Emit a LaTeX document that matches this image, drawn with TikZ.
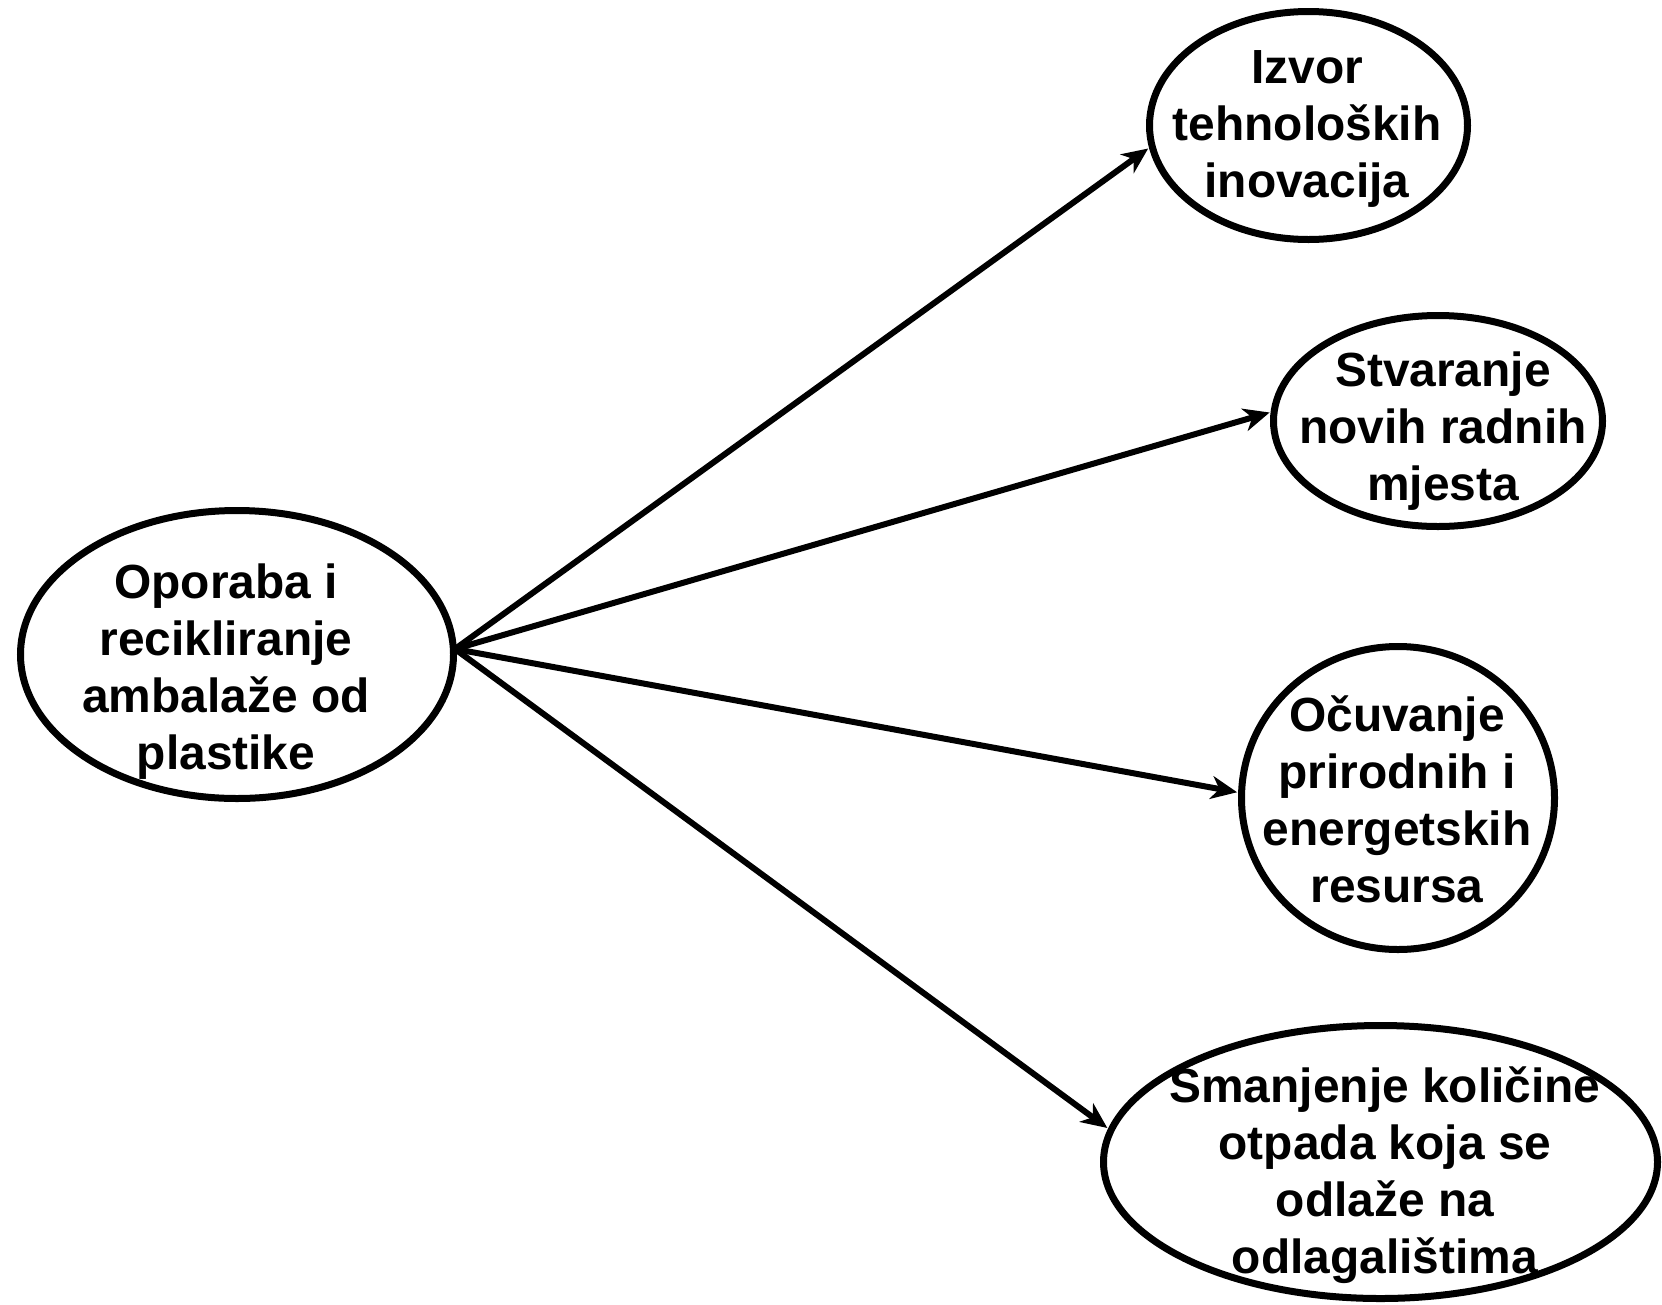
\documentclass[tikz,border=0pt]{standalone}
\usepackage{fontspec}
\setmainfont{Liberation Sans}
\usetikzlibrary{shapes.geometric,arrows.meta}
\tikzset{
  oval/.style={ellipse, draw=black, line width=7pt, inner sep=0pt},
  lbl/.style={anchor=north, inner sep=0pt, align=center,
    font=\fontsize{47.9pt}{57pt}\selectfont\bfseries},
  conn/.style={line width=6pt, -{Stealth[length=26pt,width=23pt,inset=8pt]}, shorten >=1pt}
}
\newcommand{\firstline}{\rule{0pt}{40pt}}
\begin{document}
\begin{tikzpicture}[x=1pt,y=-1pt]
\useasboundingbox[fill=white] (0,0) rectangle (1662,1304);
% ellipses
\node[oval, minimum width=433pt, minimum height=288pt] (L) at (237,654.5) {};
\node[oval, minimum width=318pt, minimum height=228pt] (I) at (1308.5,125.5) {};
\node[oval, minimum width=329pt, minimum height=211pt] (S) at (1438,421) {};
\node[oval, minimum width=313pt, minimum height=303pt] (O) at (1398,798) {};
\node[oval, minimum width=554pt, minimum height=273pt] (M) at (1380.5,1162) {};
% labels
\node[lbl] (tL) at (226,558) {\firstline Oporaba i\\recikliranje\\ambalaže od\\plastike};
\node[lbl] (tI) at (1307,43) {\firstline Izvor\\tehnoloških\\inovacija};
\node[lbl] (tS) at (1443,346) {\firstline Stvaranje\\novih radnih\\mjesta};
\node[lbl] (tO) at (1397,691) {\firstline Očuvanje\\prirodnih i\\energetskih\\resursa};
\node[lbl] (tM) at (1385,1062) {\firstline Smanjenje količine\\otpada koja se\\odlaže na\\odlagalištima};
% connectors
\coordinate (src) at (455,649);
\draw[conn] (src) -- (I.188.8);
\draw[conn] (src) -- (S.177.3);
\draw[conn] (src) -- (O.178.9);
\draw[conn] (src) -- (M.173);
\end{tikzpicture}
\end{document}
